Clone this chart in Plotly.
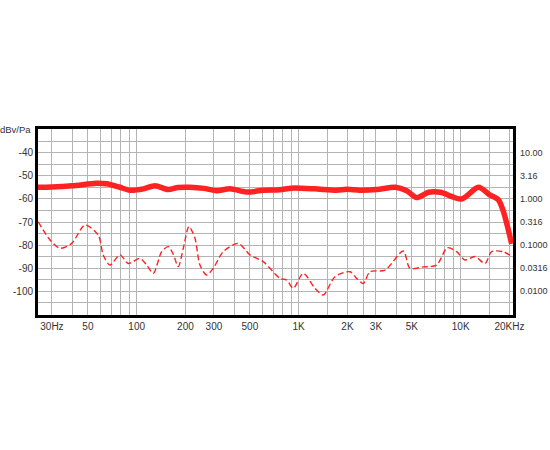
import plotly.graph_objects as go

# Main response curve (solid, thick)
resp_freq = [24.6, 30, 40, 56.6, 65, 78, 90.9, 110, 129.8, 156, 180, 213, 260, 312, 377, 477, 603,
             766, 904, 1250, 1714, 1980, 2386, 3040, 3954, 4640, 5350, 6330, 7490, 10140, 12860,
             15200, 17060, 18320, 20650]
resp_db = [-54.9, -54.8, -54.3, -53.2, -53.4, -54.8, -56.2, -55.6, -54.2, -55.9, -55.0, -54.9, -55.4,
           -56.4, -55.6, -57.0, -56.2, -56.0, -55.3, -55.6, -56.2, -55.8, -56.2, -55.9, -54.9, -56.4,
           -59.4, -57.1, -57.1, -60.0, -54.9, -58.3, -60.3, -65.3, -79.5]

# Noise / secondary curve (dashed, thin)
noise_freq = [24.7, 29.2, 33.6, 39.7, 48, 57.9, 62.2, 68.4, 78.9, 88.7, 104.8, 115.3, 126.6, 142.7,
              156.7, 168.2, 180.6, 194, 210.3, 229, 245.9, 270.4, 297, 342.4, 424, 500.6, 604.6,
              766.6, 843, 926, 1067, 1261, 1419, 1675, 2073, 2280, 2505, 2755, 3409, 4423, 4864,
              5877, 7112, 8267, 9447, 10630, 12260, 14130, 15540, 18320, 20650]
noise_db = [-69.9, -77.8, -81.4, -79.3, -71.3, -75.7, -84.3, -88.7, -84.3, -88.0, -85.8, -88.7, -92.3,
            -82.9, -80.7, -84.0, -89.4, -81.4, -72.0, -77.1, -88.7, -93.0, -90.1, -82.9, -79.3, -84.3,
            -87.2, -94.5, -95.2, -98.8, -92.3, -98.8, -101.7, -93.8, -91.6, -94.5, -96.7, -91.6,
            -90.9, -82.6, -90.1, -89.5, -88.7, -81.2, -82.9, -86.5, -85.0, -88.0, -82.9, -82.9, -85.0]

x_tickvals = [30, 50, 100, 200, 300, 500, 1000, 2000, 3000, 5000, 10000, 20000]
x_ticktext = ["30Hz", "50", "100", "200", "300", "500", "1K", "2K", "3K", "5K", "10K", "20KHz"]
x_gridvals = [30, 40, 50, 60, 70, 80, 90, 100, 200, 300, 400, 500, 600, 700, 800, 900, 1000,
              1500, 2000, 2500, 3000, 4000, 5000, 6000, 7000, 8000, 9000, 10000, 15000, 20000]

y_tickvals = [-40, -50, -60, -70, -80, -90, -100]
y_ticktext = ["-40", "-50", "-60", "-70", "-80", "-90", "-100"]
right_ticktext = ["10.00", "3.16", "1.000", "0.316", "0.1000", "0.0316", "0.0100"]

RED = "#ff2222"
GRID = "#b4b4b4"
FONT = "Liberation Sans"
TXT = "#333333"

fig = go.Figure()
fig.add_trace(go.Scatter(x=noise_freq, y=noise_db, mode="lines",
                         line=dict(color=RED, width=1.4, dash="6px,3px", shape="spline", smoothing=0.8),
                         hoverinfo="skip", showlegend=False))
fig.add_trace(go.Scatter(x=resp_freq, y=resp_db, mode="lines",
                         line=dict(color=RED, width=5.5, shape="spline", smoothing=0.8),
                         hoverinfo="skip", showlegend=False))

fig.update_layout(
    width=550, height=450,
    margin=dict(l=38, r=37, t=129, b=135),
    paper_bgcolor="white", plot_bgcolor="white",
    font=dict(family=FONT, size=10, color=TXT),
    showlegend=False,
    xaxis=dict(type="log", range=[1.391, 4.323],
               tickmode="array", tickvals=x_tickvals, ticktext=x_ticktext,
               showgrid=False, ticks="", zeroline=False,
               showline=True, linecolor="black", linewidth=3, mirror=True,
               minor=dict(tickmode="array", tickvals=x_gridvals, showgrid=True,
                          gridcolor=GRID, gridwidth=1, ticks=""),
               tickfont=dict(size=10, color=TXT)),
    yaxis=dict(range=[-110.4, -29.6],
               tickmode="array", tickvals=y_tickvals, ticktext=y_ticktext,
               showgrid=True, gridcolor=GRID, gridwidth=1, ticks="", zeroline=False,
               showline=True, linecolor="black", linewidth=3, mirror=True,
               minor=dict(dtick=5, showgrid=True, gridcolor=GRID, gridwidth=1, ticks=""),
               tickfont=dict(size=10, color=TXT)),
)

annotations = [dict(text="dBv/Pa", x=0, xref="paper", y=-29.6, yref="y", xanchor="right",
                    yanchor="middle", xshift=-5, showarrow=False, font=dict(size=9.5, color=TXT))]
for v, t in zip(y_tickvals, right_ticktext):
    annotations.append(dict(text=t, x=1, xref="paper", y=v, yref="y", xanchor="left",
                            yanchor="middle", xshift=5, showarrow=False,
                            font=dict(size=9, color=TXT)))
fig.update_layout(annotations=annotations)

fig.write_html("out.html", config={"displayModeBar": False},
               post_script="document.body.style.margin='0';document.body.style.overflow='hidden';")
